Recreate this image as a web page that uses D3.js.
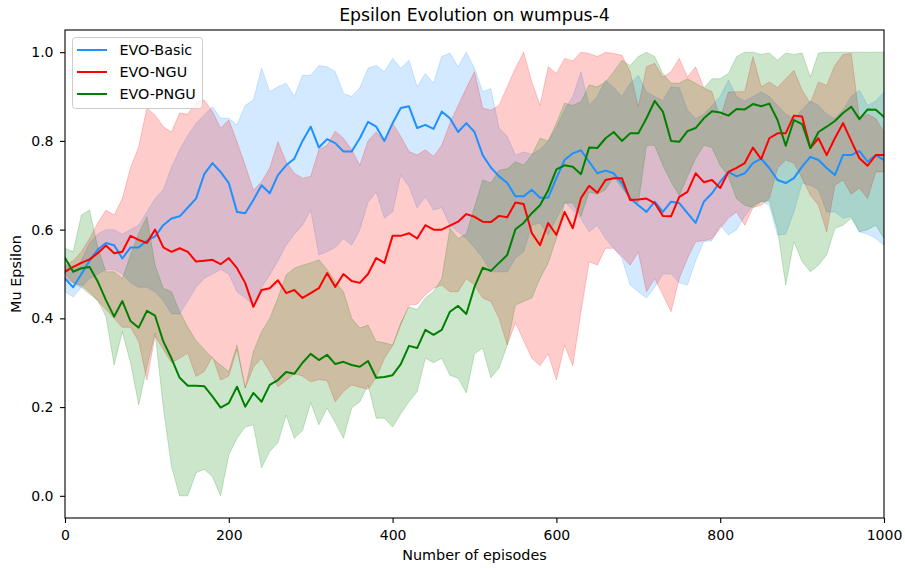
<!DOCTYPE html>
<html>
<head>
<meta charset="utf-8">
<script src="https://cdn.jsdelivr.net/npm/d3@7/dist/d3.min.js"></script>
<style>
body { margin: 0; background: #fff; }
text { font-family: "DejaVu Sans", sans-serif; fill: #000; }
</style>
</head>
<body>
<svg id="chart" width="905" height="569"></svg>
<script>
// episode grid, one reading every 10 episodes
const episodes = d3.range(0, 1001, 10);

const basicMean = [0.49,0.47,0.50,0.53,0.555,0.57,0.565,0.535,0.56,0.56,
  0.575,0.585,0.61,0.625,0.63,0.65,0.67,0.725,0.75,0.73,
  0.705,0.64,0.637,0.667,0.70,0.682,0.723,0.745,0.76,0.80,
  0.832,0.785,0.804,0.795,0.776,0.776,0.806,0.843,0.832,0.80,
  0.84,0.874,0.878,0.829,0.836,0.827,0.866,0.851,0.82,0.84,
  0.82,0.768,0.74,0.72,0.705,0.675,0.675,0.69,0.672,0.672,
  0.716,0.757,0.772,0.779,0.753,0.727,0.733,0.727,0.705,0.67,
  0.655,0.64,0.663,0.64,0.663,0.66,0.637,0.615,0.663,0.682,
  0.708,0.73,0.72,0.727,0.75,0.76,0.739,0.712,0.705,0.716,
  0.742,0.764,0.757,0.739,0.723,0.768,0.768,0.777,0.753,0.768,
  0.757];
const basicUpper = [0.52,0.51,0.53,0.57,0.59,0.60,0.60,0.59,0.60,0.61,
  0.64,0.67,0.69,0.74,0.78,0.813,0.84,0.858,0.877,0.851,
  0.851,0.836,0.88,0.892,0.964,0.911,0.922,0.93,0.90,0.948,
  0.948,0.97,0.967,0.956,0.907,0.90,0.92,0.964,0.97,0.956,
  0.986,0.964,0.982,0.922,0.952,0.93,0.99,0.998,0.967,1.0,
  0.964,0.911,0.918,0.829,0.81,0.768,0.775,0.77,0.78,0.80,
  0.83,0.87,0.90,0.955,0.88,0.90,0.937,0.92,0.90,0.93,
  0.948,0.91,0.90,0.89,0.922,0.92,0.87,0.85,0.86,0.88,
  0.90,0.937,0.90,0.89,0.90,0.91,0.90,0.88,0.86,0.85,
  0.87,0.89,0.88,0.86,0.85,0.87,0.90,0.914,0.88,0.89,
  0.91];
const basicLower = [0.46,0.448,0.47,0.49,0.50,0.51,0.51,0.50,0.48,0.47,
  0.47,0.46,0.44,0.41,0.41,0.44,0.47,0.49,0.50,0.51,
  0.50,0.46,0.446,0.43,0.47,0.498,0.53,0.565,0.59,0.61,
  0.644,0.543,0.55,0.56,0.58,0.565,0.60,0.662,0.685,0.626,
  0.64,0.723,0.697,0.649,0.674,0.644,0.65,0.61,0.595,0.58,
  0.56,0.536,0.505,0.505,0.505,0.536,0.55,0.61,0.615,0.588,
  0.625,0.662,0.644,0.625,0.595,0.61,0.58,0.558,0.536,0.475,
  0.46,0.446,0.47,0.50,0.50,0.48,0.475,0.53,0.573,0.575,
  0.61,0.588,0.60,0.63,0.655,0.665,0.655,0.588,0.59,0.64,
  0.705,0.70,0.69,0.64,0.64,0.626,0.63,0.595,0.59,0.58,
  0.565];

const nguMean = [0.505,0.516,0.525,0.533,0.547,0.564,0.547,0.55,0.586,0.577,
  0.57,0.60,0.56,0.55,0.558,0.55,0.528,0.53,0.532,0.522,
  0.536,0.513,0.48,0.426,0.464,0.468,0.486,0.457,0.464,0.446,
  0.457,0.468,0.502,0.471,0.50,0.484,0.48,0.50,0.536,0.525,
  0.586,0.586,0.592,0.58,0.61,0.60,0.60,0.609,0.618,0.635,
  0.629,0.618,0.617,0.631,0.628,0.661,0.658,0.592,0.565,0.615,
  0.588,0.64,0.603,0.671,0.699,0.683,0.712,0.716,0.716,0.667,
  0.668,0.67,0.66,0.631,0.63,0.674,0.685,0.727,0.707,0.712,
  0.694,0.73,0.739,0.75,0.785,0.759,0.806,0.817,0.817,0.857,
  0.855,0.784,0.806,0.768,0.806,0.84,0.80,0.761,0.744,0.768,
  0.768];
const nguUpper = [0.52,0.53,0.55,0.58,0.615,0.644,0.633,0.67,0.739,0.787,
  0.874,0.858,0.832,0.82,0.863,0.86,0.888,0.892,0.866,0.829,
  0.847,0.798,0.745,0.689,0.708,0.739,0.798,0.753,0.727,0.716,
  0.72,0.78,0.79,0.822,0.806,0.78,0.745,0.80,0.82,0.80,
  0.84,0.81,0.776,0.768,0.78,0.765,0.79,0.84,0.88,0.919,
  0.956,0.874,0.869,0.88,0.922,0.964,1.0,0.933,0.88,0.967,
  0.952,0.986,0.98,1.0,0.997,0.99,1.0,0.997,0.993,0.956,
  0.877,0.967,0.975,0.944,0.956,0.986,0.944,0.967,0.919,0.911,
  0.851,0.91,0.911,0.911,0.99,0.922,0.933,0.92,0.94,0.959,
  0.914,0.885,0.933,0.925,0.97,0.995,0.997,0.851,0.86,0.85,
  0.82];
const nguLower = [0.49,0.48,0.475,0.46,0.44,0.42,0.40,0.38,0.38,0.348,
  0.261,0.36,0.33,0.30,0.31,0.322,0.269,0.28,0.314,0.261,
  0.27,0.33,0.243,0.29,0.31,0.28,0.246,0.26,0.275,0.27,
  0.257,0.262,0.26,0.212,0.235,0.25,0.245,0.24,0.266,0.31,
  0.338,0.385,0.43,0.432,0.453,0.468,0.475,0.46,0.46,0.49,
  0.475,0.446,0.438,0.40,0.34,0.39,0.35,0.31,0.293,0.32,
  0.261,0.34,0.293,0.415,0.528,0.52,0.558,0.558,0.54,0.52,
  0.55,0.46,0.49,0.453,0.415,0.49,0.535,0.573,0.575,0.58,
  0.603,0.626,0.64,0.61,0.65,0.655,0.67,0.739,0.757,0.75,
  0.716,0.678,0.655,0.595,0.70,0.712,0.68,0.694,0.67,0.73,
  0.73];

const pnguMean = [0.536,0.505,0.513,0.516,0.483,0.441,0.404,0.439,0.394,0.379,
  0.417,0.406,0.348,0.31,0.266,0.248,0.248,0.247,0.224,0.199,
  0.209,0.246,0.201,0.232,0.212,0.25,0.261,0.279,0.275,0.30,
  0.32,0.306,0.318,0.297,0.302,0.295,0.291,0.304,0.266,0.268,
  0.272,0.297,0.338,0.333,0.374,0.363,0.374,0.415,0.428,0.41,
  0.471,0.514,0.507,0.525,0.543,0.601,0.615,0.637,0.655,0.689,
  0.736,0.745,0.742,0.725,0.785,0.784,0.806,0.82,0.80,0.817,
  0.817,0.851,0.89,0.866,0.80,0.798,0.822,0.829,0.851,0.867,
  0.864,0.857,0.872,0.871,0.883,0.878,0.884,0.847,0.789,0.847,
  0.838,0.784,0.82,0.832,0.845,0.863,0.877,0.849,0.871,0.87,
  0.854];
const pnguUpper = [0.558,0.55,0.633,0.644,0.56,0.505,0.505,0.49,0.543,0.592,
  0.629,0.52,0.468,0.46,0.415,0.38,0.35,0.33,0.31,0.295,
  0.28,0.34,0.243,0.325,0.37,0.40,0.446,0.498,0.513,0.52,
  0.525,0.532,0.51,0.483,0.46,0.40,0.378,0.385,0.348,0.345,
  0.34,0.39,0.426,0.42,0.446,0.46,0.49,0.603,0.58,0.59,
  0.651,0.712,0.705,0.734,0.737,0.753,0.745,0.768,0.806,0.80,
  0.84,0.885,0.88,0.888,0.926,0.922,0.933,0.956,0.982,0.97,
  0.99,1.0,0.99,0.952,0.93,0.93,0.94,0.93,0.919,0.94,
  0.94,0.952,0.99,1.0,1.0,0.995,0.998,0.982,0.998,0.995,
  0.998,0.944,0.998,1.0,1.0,1.0,1.0,1.0,1.0,1.0,
  1.0];
const pnguLower = [0.50,0.48,0.47,0.455,0.44,0.404,0.295,0.37,0.30,0.205,
  0.29,0.367,0.20,0.066,0.0,0.0,0.052,0.06,0.043,0.0,
  0.092,0.13,0.155,0.16,0.063,0.10,0.12,0.182,0.13,0.147,
  0.21,0.16,0.198,0.165,0.13,0.198,0.212,0.25,0.175,0.175,
  0.155,0.185,0.212,0.235,0.31,0.30,0.31,0.272,0.265,0.232,
  0.32,0.333,0.266,0.288,0.34,0.43,0.438,0.446,0.49,0.525,
  0.58,0.66,0.66,0.63,0.685,0.68,0.69,0.72,0.694,0.67,
  0.66,0.79,0.79,0.745,0.708,0.677,0.72,0.761,0.79,0.785,
  0.745,0.72,0.67,0.655,0.65,0.663,0.665,0.60,0.475,0.573,
  0.528,0.505,0.52,0.543,0.603,0.61,0.626,0.595,0.60,0.61,
  0.58];

const seriesNames = ["EVO-Basic", "EVO-NGU", "EVO-PNGU"];
const seriesColors = ["#1e90ff", "#ff0000", "#008000"];
const xTicks = [0, 200, 400, 600, 800, 1000];
const yTicks = [0.0, 0.2, 0.4, 0.6, 0.8, 1.0];

const series = [
  {name: seriesNames[0], color: seriesColors[0], mean: basicMean, hi: basicUpper, lo: basicLower},
  {name: seriesNames[1], color: seriesColors[1], mean: nguMean, hi: nguUpper, lo: nguLower},
  {name: seriesNames[2], color: seriesColors[2], mean: pnguMean, hi: pnguUpper, lo: pnguLower}
];

const svg = d3.select("#chart");
const plotLeft = 65, plotRight = 884, plotTop = 30, plotBottom = 518;

const x = d3.scaleLinear().domain([0, 1000]).range([plotLeft, plotRight]);
const y = d3.scaleLinear().domain([-0.05, 1.05]).range([plotBottom, plotTop]);

svg.append("defs").append("clipPath").attr("id", "plotclip")
  .append("rect").attr("x", plotLeft).attr("y", plotTop)
  .attr("width", plotRight - plotLeft).attr("height", plotBottom - plotTop);

const plot = svg.append("g").attr("clip-path", "url(#plotclip)");

const band = d3.area()
  .x((d, i) => x(episodes[i]))
  .y0(d => y(d[0]))
  .y1(d => y(d[1]));

const meanLine = d3.line()
  .x((d, i) => x(episodes[i]))
  .y(d => y(d));

// fills go under every line, like matplotlib's zorder
plot.selectAll(".band")
  .data(series)
  .join("path")
  .attr("class", "band")
  .attr("d", s => band(s.lo.map((v, i) => [v, s.hi[i]])))
  .attr("fill", s => s.color)
  .attr("fill-opacity", 0.2)
  .attr("stroke", s => s.color)
  .attr("stroke-opacity", 0.2)
  .attr("stroke-width", 1);

plot.selectAll(".mean")
  .data(series)
  .join("path")
  .attr("class", "mean")
  .attr("d", s => meanLine(s.mean))
  .attr("fill", "none")
  .attr("stroke", s => s.color)
  .attr("stroke-width", 2)
  .attr("stroke-linejoin", "round")
  .attr("stroke-linecap", "square");

// axes
const xAxis = svg.append("g")
  .attr("transform", `translate(0,${plotBottom})`)
  .call(d3.axisBottom(x).tickValues(xTicks).tickFormat(d3.format("d"))
    .tickSize(5).tickSizeOuter(0).tickPadding(7));
const yAxis = svg.append("g")
  .attr("transform", `translate(${plotLeft},0)`)
  .call(d3.axisLeft(y).tickValues(yTicks).tickFormat(d3.format(".1f"))
    .tickSize(5).tickSizeOuter(0).tickPadding(6.5));

[xAxis, yAxis].forEach(a => {
  a.select(".domain").remove();
  a.selectAll("line").attr("stroke", "#000").attr("stroke-width", 1.1);
  a.selectAll("text").attr("font-size", "14px")
    .attr("font-family", "DejaVu Sans, sans-serif").attr("fill", "#000");
});

svg.append("rect")
  .attr("x", plotLeft).attr("y", plotTop)
  .attr("width", plotRight - plotLeft).attr("height", plotBottom - plotTop)
  .attr("fill", "none").attr("stroke", "#000").attr("stroke-width", 1.1);

svg.append("text")
  .attr("x", (plotLeft + plotRight) / 2).attr("y", 21)
  .attr("text-anchor", "middle").attr("font-size", "17.3px")
  .text("Epsilon Evolution on wumpus-4");

svg.append("text")
  .attr("x", (plotLeft + plotRight) / 2).attr("y", 559.5)
  .attr("text-anchor", "middle").attr("font-size", "14.4px")
  .text("Number of episodes");

svg.append("text")
  .attr("transform", `translate(21,${(plotTop + plotBottom) / 2}) rotate(-90)`)
  .attr("text-anchor", "middle").attr("font-size", "14.4px")
  .text("Mu Epsilon");

// legend
const legend = svg.append("g");
legend.append("rect")
  .attr("x", 72.5).attr("y", 37.5).attr("width", 130).attr("height", 71)
  .attr("rx", 3).attr("fill", "#fff").attr("fill-opacity", 0.8)
  .attr("stroke", "#cccccc").attr("stroke-width", 1);

const rows = legend.selectAll(".row")
  .data(series)
  .join("g")
  .attr("class", "row")
  .attr("transform", (d, i) => `translate(0,${50 + i * 22})`);

rows.append("line")
  .attr("x1", 77).attr("x2", 107)
  .attr("stroke", d => d.color).attr("stroke-width", 2);

rows.append("text")
  .attr("x", 119.5).attr("y", 5.1)
  .attr("font-size", "14.3px")
  .text(d => d.name);
</script>
</body>
</html>
